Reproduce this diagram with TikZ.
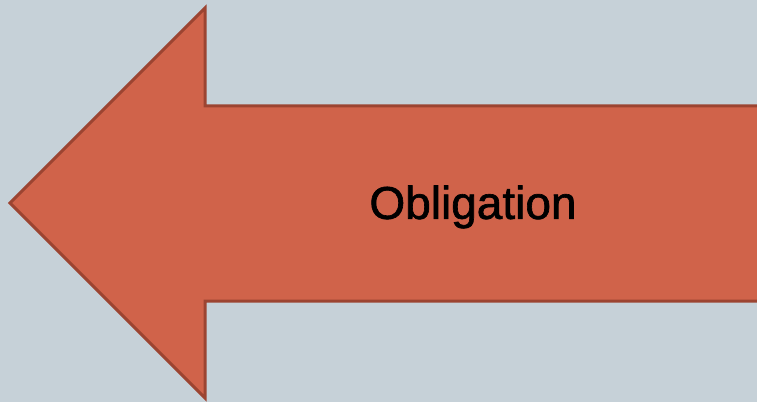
\documentclass[tikz,border=0pt]{standalone}
\usepackage{fontspec}
\setmainfont{Liberation Sans}
\newfontfamily\labelfont[FakeBold=1.4]{Liberation Sans}
\usepackage{tikz}
\usepackage{xcolor}
\usetikzlibrary{positioning, calc}

\definecolor{slidebg}{HTML}{C6D1D8}
\definecolor{arrowfill}{HTML}{D0634A}
\definecolor{arrowline}{HTML}{9C4431}

\begin{document}
\begin{tikzpicture}[x=1pt, y=1pt]
% Background and frame
\fill[slidebg] (0,0) rectangle (757,402);
\useasboundingbox (0,0) rectangle (757,402);
\clip (0,0) rectangle (757,402);
% Left-pointing block arrow
\filldraw[fill=arrowfill, draw=arrowline, line width=3pt, line join=miter]
    (10,199) -- (205,394) -- (205,296) -- (800,296) -- (800,101)
    -- (205,101) -- (205,4) -- cycle;
\node (label) at (473,195) {\labelfont\fontsize{46}{52}\selectfont Obligation};
\end{tikzpicture}
\end{document}
